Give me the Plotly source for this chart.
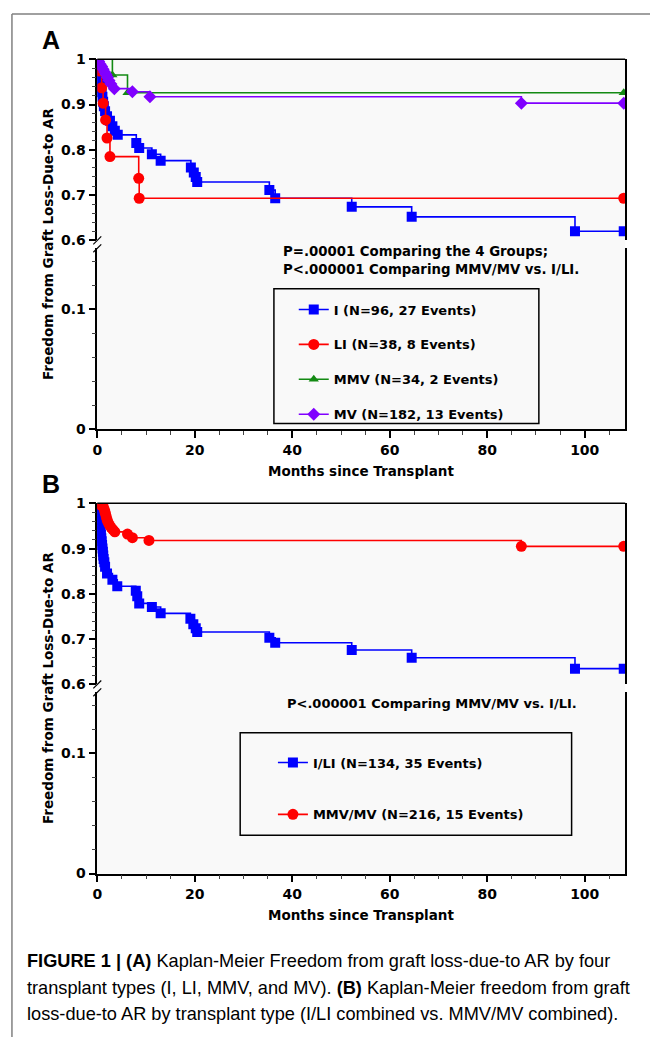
import plotly.graph_objects as go

# ---------------- data ----------------
# Panel A
I_t = [0, 0.1, 0.2, 0.3, 0.45, 0.6, 0.75, 0.9, 1.05, 1.2, 1.35, 1.6, 2.0, 2.6, 3.1, 3.6, 4.2,
       8.0, 8.6, 11.2, 13.0, 19.2, 19.8, 20.2, 20.5, 35.3, 36.5, 52.2, 64.5, 98.0, 108.0]
I_s = [1.0, 0.990, 0.979, 0.969, 0.958, 0.948, 0.937, 0.927, 0.917, 0.906, 0.896, 0.885, 0.874,
       0.864, 0.852, 0.842, 0.833, 0.815, 0.804, 0.790, 0.776, 0.761, 0.750, 0.740, 0.729,
       0.711, 0.693, 0.674, 0.652, 0.620, 0.620]

LI_t = [0, 0.4, 0.9, 1.2, 1.7, 2.0, 2.6, 8.5, 8.6, 108.0]
LI_s = [1.0, 0.974, 0.937, 0.903, 0.866, 0.826, 0.785, 0.737, 0.693, 0.693]

MMV_t = [0, 3.1, 6.2, 108.0]
MMV_s = [1.0, 0.965, 0.926, 0.926]

MV_t = [0, 0.3, 0.6, 0.9, 1.2, 1.5, 1.8, 2.1, 2.4, 2.8, 3.5, 7.2, 10.8, 87.0, 108.0]
MV_s = [1.0, 0.995, 0.989, 0.984, 0.978, 0.972, 0.966, 0.960, 0.953, 0.945, 0.935, 0.928,
        0.917, 0.903, 0.903]

# Panel B
ILI_t = [0, 0.1, 0.18, 0.26, 0.34, 0.42, 0.5, 0.58, 0.66, 0.74, 0.82, 0.9, 0.98, 1.06, 1.14,
         1.22, 1.3, 1.45, 1.6, 2.0, 3.1, 4.1, 7.9, 8.2, 8.6, 11.2, 13.0, 19.1, 19.7, 20.2,
         20.5, 35.3, 36.5, 52.2, 64.5, 98.0, 108.0]
ILI_s = [1.0, 0.992, 0.985, 0.977, 0.969, 0.962, 0.954, 0.946, 0.939, 0.931, 0.923, 0.916,
         0.908, 0.900, 0.893, 0.885, 0.877, 0.870, 0.860, 0.845, 0.831, 0.817, 0.807, 0.795,
         0.779, 0.771, 0.757, 0.745, 0.733, 0.724, 0.716, 0.703, 0.692, 0.676, 0.659, 0.635,
         0.635]

MMVMV_t = [0, 0.6, 1.2, 1.4, 1.55, 1.7, 1.85, 2.0, 2.2, 2.5, 2.8, 3.2, 3.6, 6.2, 7.2, 10.6,
           87.0, 108.0]
MMVMV_s = [1.0, 0.997, 0.993, 0.987, 0.982, 0.976, 0.970, 0.964, 0.958, 0.952, 0.947, 0.942,
           0.937, 0.932, 0.924, 0.918, 0.905, 0.905]

x_ticks = [0, 20, 40, 60, 80, 100]
y_up_ticks = [0.6, 0.7, 0.8, 0.9, 1.0]
y_up_text = ["0.6", "0.7", "0.8", "0.9", "1"]
y_lo_ticks = [0, 0.1]
y_lo_text = ["0", "0.1"]

names_A = ["I (N=96, 27 Events)", "LI (N=38, 8 Events)", "MMV (N=34, 2 Events)",
           "MV (N=182, 13 Events)"]
names_B = ["I/LI (N=134, 35 Events)", "MMV/MV (N=216, 15 Events)"]

# ---------------- layout helpers ----------------
W, H = 650, 1045
def fx(px):
    return px / W
def fy(py):
    return 1 - py / H

BG = "#f9f9f9"
BLUE, RED, GREEN, PURPLE = "#0000ff", "#ff0000", "#138a13", "#8000ff"
FONT = "DejaVu Sans"
XL, XR = 93, 625
XMAX = 108.3

fig = go.Figure()

def km(t, s, name, color, symbol, size, xa, ya, legend, group):
    fig.add_trace(go.Scatter(
        x=t, y=s, mode="lines+markers", name=name,
        line=dict(shape="hv", color=color, width=1.6),
        marker=dict(symbol=symbol, size=size, color=color, line=dict(width=0)),
        xaxis=xa, yaxis=ya, legend=legend, legendgroup=group, hoverinfo="skip"))

# placeholders for the lower (empty) segments
fig.add_trace(go.Scatter(x=[None], y=[None], xaxis="x", yaxis="y", showlegend=False))
fig.add_trace(go.Scatter(x=[None], y=[None], xaxis="x2", yaxis="y3", showlegend=False))

km(I_t, I_s, names_A[0], BLUE, "square", 10, "x", "y2", "legend", "a1")
km(LI_t, LI_s, names_A[1], RED, "circle", 11, "x", "y2", "legend", "a2")
km(MMV_t, MMV_s, names_A[2], GREEN, "triangle-up", 9, "x", "y2", "legend", "a3")
km(MV_t, MV_s, names_A[3], PURPLE, "diamond", 10, "x", "y2", "legend", "a4")

km(ILI_t, ILI_s, names_B[0], BLUE, "square", 10, "x2", "y4", "legend2", "b1")
km(MMVMV_t, MMVMV_s, names_B[1], RED, "circle", 11, "x2", "y4", "legend2", "b2")

tickfont = dict(family=FONT, size=14, color="black", weight="bold")
common = dict(showgrid=False, zeroline=False, showline=True, linecolor="black",
              linewidth=1.5, ticks="outside", ticklen=7, tickwidth=1.5,
              tickcolor="black", tickfont=tickfont, fixedrange=True)

def xaxis_cfg(anchor):
    return dict(common, domain=[fx(XL), fx(XR)], range=[0, XMAX], anchor=anchor,
                tickvals=x_ticks,
                minor=dict(dtick=5, ticks="outside", ticklen=4, tickwidth=1,
                           tickcolor="#444"))

def ylo_cfg(off, anchor):
    top = 244 + off
    bot = 428 + off
    return dict(common, domain=[fy(bot), fy(top)], range=[0, (bot - top) / 1220.0],
                anchor=anchor, mirror=True, tickvals=y_lo_ticks, ticktext=y_lo_text,
                minor=dict(dtick=0.02, ticks="outside", ticklen=4, tickwidth=1,
                           tickcolor="#444"))

def yup_cfg(off, anchor):
    top = 52 + off
    bot = 236 + off
    return dict(common, domain=[fy(bot), fy(top)], range=[0.6, 1.0], anchor=anchor,
                mirror=True, tickvals=y_up_ticks, ticktext=y_up_text,
                minor=dict(dtick=0.02, tick0=0, ticks="outside", ticklen=4, tickwidth=1,
                           tickcolor="#444"))

OFF_B = 451

shapes = []
annotations = []

def line(x0, y0, x1, y1, color="black", width=1.5):
    shapes.append(dict(type="line", xref="paper", yref="paper", x0=fx(x0), y0=fy(y0),
                       x1=fx(x1), y1=fy(y1), line=dict(color=color, width=width)))

def text(x, y, s, size=13, xanchor="left", bold=True, angle=0, family=FONT, yanchor="middle"):
    annotations.append(dict(xref="paper", yref="paper", x=fx(x), y=fy(y), text=s,
                            showarrow=False, xanchor=xanchor, yanchor=yanchor,
                            textangle=angle,
                            font=dict(family=family, size=size, color="black",
                                      weight="bold" if bold else "normal")))

for off, letter in [(0, "A"), (OFF_B, "B")]:
    shapes.append(dict(type="rect", xref="paper", yref="paper", layer="below",
                       x0=fx(XL), x1=fx(XR), y0=fy(428 + off), y1=fy(52 + off),
                       fillcolor=BG, line=dict(width=0)))
    line(XL, 52 + off, XR, 52 + off)
    line(89, 240 + off, 97, 232 + off, width=1.2)
    line(89, 248 + off, 97, 240 + off, width=1.2)
    text(46, 32 + off, letter, size=25, xanchor="center", family="Liberation Sans")
    text((XL + XR) / 2, 470 + off, "Months since Transplant", size=13.5, xanchor="center")
    text(44, 240 + off, "Freedom from Graft Loss-Due-to AR", size=13.5, xanchor="center",
         angle=-90)

text(278, 247, "P=.00001 Comparing the 4 Groups;", size=13.3)
text(278, 266, "P<.000001 Comparing MMV/MV vs. I/LI.", size=13.3)
text(282, 706, "P<.000001 Comparing MMV/MV vs. I/LI.", size=13)

for (x0, y0, x1, y1) in [(271, 285, 538, 422), (237, 736, 571, 840)]:
    shapes.append(dict(type="rect", xref="paper", yref="paper", x0=fx(x0), x1=fx(x1),
                       y0=fy(y1), y1=fy(y0), line=dict(color="black", width=1.5)))

line(7, 6, 650, 6, color="#808080", width=1.5)
line(7, 6, 7, 1045, color="#808080", width=1.5)

CAP = "Liberation Sans"
CAP_SIZE = 18.2
text(20, 968, "<b>FIGURE 1 | (A)</b> Kaplan-Meier Freedom from graft loss-due-to AR by four",
     size=CAP_SIZE, bold=False, family=CAP)
text(20, 995, "transplant types (I, LI, MMV, and MV). <b>(B)</b> Kaplan-Meier freedom from graft",
     size=CAP_SIZE, bold=False, family=CAP)
text(20, 1022, "loss-due-to AR by transplant type (I/LI combined vs. MMV/MV combined).",
     size=CAP_SIZE, bold=False, family=CAP)

legfont = dict(family=FONT, size=13, color="black", weight="bold")

fig.update_layout(
    width=W, height=H, autosize=False,
    margin=dict(l=0, r=0, t=0, b=0),
    paper_bgcolor="white", plot_bgcolor=BG,
    xaxis=xaxis_cfg("y"),
    yaxis=ylo_cfg(0, "x"),
    yaxis2=yup_cfg(0, "x"),
    xaxis2=xaxis_cfg("y3"),
    yaxis3=ylo_cfg(OFF_B, "x2"),
    yaxis4=yup_cfg(OFF_B, "x2"),
    legend=dict(x=fx(291), y=fy(291), xanchor="left", yanchor="top",
                bgcolor="rgba(0,0,0,0)", borderwidth=0, font=legfont,
                tracegroupgap=15),
    legend2=dict(x=fx(270), y=fy(751), xanchor="left", yanchor="top",
                 bgcolor="rgba(0,0,0,0)", borderwidth=0, font=legfont,
                 tracegroupgap=32),
    shapes=shapes,
    annotations=annotations,
    showlegend=True,
)

fig.write_html("out.html",
               config={"displayModeBar": False},
               post_script="document.body.style.margin='0';document.body.style.padding='0';"
                           "document.documentElement.style.overflow='hidden';")
